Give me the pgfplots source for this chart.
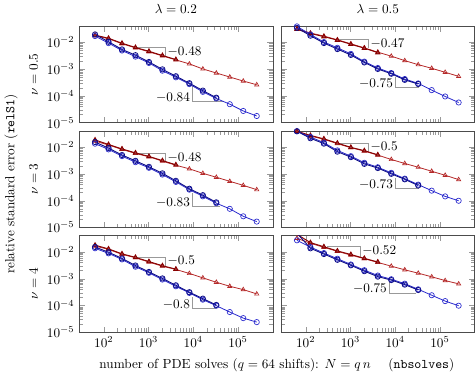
\documentclass[border=0pt]{standalone}
\usepackage{pgfplots}
\pgfplotsset{compat=1.18}
\usepackage{pgfplotstable}
\usepgfplotslibrary{groupplots}
\usetikzlibrary{calc}

\definecolor{redA}{RGB}{180,40,40}
\definecolor{redB}{RGB}{135,0,0}
\definecolor{blueA}{RGB}{40,40,205}
\definecolor{blueB}{RGB}{15,15,135}

% columns: N, red run (full), red run (short), blue run (full), blue run (short)
\pgfplotstableread{
N rA rB bA bB
64 0.0175 0.0186 0.0171 0.0197
128 0.0136 0.01414 0.00933 0.01045
256 0.00879 0.00923 0.00492 0.00541
512 0.00621 0.00640 0.00292 0.00330
1024 0.00440 0.00462 0.00169 0.00184
2048 0.00310 0.00322 0.000871 0.000976
4096 0.00220 0.00227 0.000492 0.000541
8192 0.00156 nan 0.000275 0.000297
16384 0.00101 nan 0.000141 0.000157
32768 0.000713 nan 7.98e-5 8.54e-5
65536 0.000505 nan 4.88e-5 nan
131072 0.000357 nan 2.73e-5 nan
262144 0.000260 nan 1.77e-5 nan
}\tabTL
\pgfplotstableread{
N rA rB bA bB
64 0.0322 0.0306 0.0393 0.0346
128 0.0222 0.0213 0.0196 0.01764
256 0.0171 0.01625 0.0102 0.00938
512 0.0124 0.01203 0.00621 0.00559
1024 0.00879 0.00844 0.00370 0.00337
2048 0.00621 0.00602 0.00190 0.00177
4096 0.00428 0.00411 0.00110 0.00101
8192 0.00303 nan 0.000713 0.00067
16384 0.00207 nan 0.000425 0.000395
32768 0.00146 nan 0.000292 0.000277
65536 0.00107 nan 0.000164 nan
131072 0.000758 nan 9.48e-5 nan
262144 0.000536 nan 5.65e-5 nan
}\tabTR
\pgfplotstableread{
N rA rB bA bB
64 0.0168 0.0185 0.0134 0.0154
128 0.0119 0.0125 0.00820 0.00918
256 0.00820 0.00853 0.00459 0.00505
512 0.00579 0.00608 0.00273 0.00306
1024 0.00435 0.00448 0.00168 0.00183
2048 0.00298 0.00313 0.000942 0.001046
4096 0.00210 0.00218 0.000500 0.00055
8192 0.00154 nan 0.000257 0.000278
16384 0.00105 nan 0.000145 0.000160
32768 0.000745 nan 8.0e-5 8.64e-5
65536 0.000527 nan 4.95e-5 nan
131072 0.000372 nan 2.6e-5 nan
262144 0.000257 nan 1.65e-5 nan
}\tabML
\pgfplotstableread{
N rA rB bA bB
64 0.039 0.039 0.039 0.039
128 0.0259 0.0272 0.0238 0.0214
256 0.0195 0.0203 0.0146 0.01343
512 0.0134 0.0141 0.0075 0.00675
1024 0.00949 0.00977 0.00459 0.00422
2048 0.00708 0.00736 0.00259 0.00236
4096 0.00500 0.00515 0.00177 0.00165
8192 0.00345 nan 0.00109 0.001003
16384 0.00244 nan 0.000665 0.000625
32768 0.00177 nan 0.000396 0.000368
65536 0.00125 nan 0.000236 nan
131072 0.000885 nan 0.000144 nan
262144 0.000611 nan 9.9e-5 nan
}\tabMR
\pgfplotstableread{
N rA rB bA bB
64 0.0165 0.0178 0.0136 0.01523
128 0.0124 0.0129 0.00879 0.00967
256 0.00805 0.00845 0.00522 0.00569
512 0.00605 0.00623 0.00278 0.00309
1024 0.00414 0.00435 0.00165 0.00178
2048 0.00292 0.00304 0.000925 0.001018
4096 0.00220 0.00227 0.000518 0.000565
8192 0.00156 nan 0.000292 0.000312
16384 0.00107 nan 0.000164 0.000179
32768 0.000733 nan 9.75e-5 0.000104
65536 0.000518 nan 5.65e-5 nan
131072 0.000389 nan 3.36e-5 nan
262144 0.000269 nan 2.38e-5 nan
}\tabBL
\pgfplotstableread{
N rA rB bA bB
64 0.0322 0.045 0.0270 0.050
128 0.0209 0.0222 0.0151 0.0136
256 0.0148 0.01554 0.00901 0.00829
512 0.01044 0.01086 0.00555 0.00505
1024 0.00759 0.00797 0.00339 0.00315
2048 0.00555 0.00572 0.00207 0.00190
4096 0.00403 0.00419 0.00131 0.00119
8192 0.00292 nan 0.00095 0.000884
16384 0.00214 nan 0.00065 0.000598
32768 0.00160 nan 0.00040 0.000376
65536 0.00117 nan 0.00024 nan
131072 0.000849 nan 0.000145 nan
262144 0.000638 nan 9.75e-5 nan
}\tabBR

\pgfplotsset{
  panel/.style={
    xmode=log, ymode=log,
    xmin=28, xmax=6e5, ymin=1e-5, ymax=0.04,
    scale only axis, width=146.7pt, height=73pt,
    xtick={1e2,1e3,1e4,1e5}, ytick={1e-5,1e-4,1e-3,1e-2},
    axis line style={black!70},
    tick style={black!40},
  },
  redA/.style={color=redA, line width=0.6pt, mark=triangle, mark size=1.8pt,
    mark options={solid, line width=0.5pt}},
  redB/.style={color=redB, line width=0.7pt, mark=triangle*, mark size=1.8pt,
    mark options={solid, fill=redB!75}},
  blueA/.style={color=blueA, line width=0.6pt, mark=o, mark size=2pt,
    mark options={solid, line width=0.5pt}},
  blueB/.style={color=blueB, line width=0.7pt, mark=o, mark size=2pt,
    mark options={solid, line width=0.6pt}},
}

% slope triangles: x1, x2, ytop, ybot, label
\newcommand{\redslope}[5]{%
  \draw[black!40, line width=0.6pt] (axis cs:#1,#3) -- (axis cs:#2,#3) -- (axis cs:#2,#4);
  \node[anchor=west, inner sep=1.5pt, yshift=-3pt] at (axis cs:#2,#3) {$#5$};}
\newcommand{\blueslope}[5]{%
  \draw[black!40, line width=0.6pt] (axis cs:#1,#3) -- (axis cs:#1,#4) -- (axis cs:#2,#4);
  \node[anchor=east, inner sep=1.5pt, yshift=3pt] at (axis cs:#1,#4) {$#5$};}

\newcommand{\panelplots}[1]{%
  \addplot[redA] table[x=N, y=rA] {#1};
  \addplot[redB] table[x=N, y=rB] {#1};
  \addplot[blueA] table[x=N, y=bA] {#1};
  \addplot[blueB] table[x=N, y=bB] {#1};}

\begin{document}
\begin{tikzpicture}
\begin{groupplot}[
  group style={group size=2 by 3, horizontal sep=6.1pt, vertical sep=6.3pt},
  panel,
]
\nextgroupplot[title={$\lambda = 0.2$}, ylabel={$\nu = 0.5$}, xticklabels={}]
  \redslope{533}{2395}{0.00632}{0.00307}{-0.48}
  \blueslope{9480}{48000}{2.42e-4}{6.2e-5}{-0.84}
  \panelplots{\tabTL}
\nextgroupplot[title={$\lambda = 0.5$}, xticklabels={}, yticklabels={}]
  \redslope{522}{2520}{0.0124}{0.00592}{-0.47}
  \blueslope{1e4}{34600}{5.25e-4}{2.07e-4}{-0.75}
  \panelplots{\tabTR}
\nextgroupplot[ylabel={$\nu = 3$}, xticklabels={}]
  \redslope{533}{2395}{0.00565}{0.00275}{-0.48}
  \blueslope{9480}{39700}{1.99e-4}{6.05e-5}{-0.83}
  \panelplots{\tabML}
\nextgroupplot[xticklabels={}, yticklabels={}]
  \redslope{522}{2520}{0.0142}{0.00646}{-0.5}
  \blueslope{1e4}{34600}{6.93e-4}{2.8e-4}{-0.73}
  \panelplots{\tabMR}
\nextgroupplot[ylabel={$\nu = 4$}]
  \redslope{533}{2395}{0.00638}{0.00301}{-0.5}
  \blueslope{9480}{32300}{2.0e-4}{7.52e-5}{-0.8}
  \panelplots{\tabBL}
\nextgroupplot[yticklabels={}]
  \redslope{300}{1650}{0.0160}{0.0066}{-0.52}
  \blueslope{7310}{29100}{8.23e-4}{2.92e-4}{-0.75}
  \panelplots{\tabBR}
\end{groupplot}
\node[rotate=90, anchor=south] at ($(group c1r2.outer west)+(-2pt,0)$)
  {relative standard error (\texttt{relS1})};
\node[anchor=base] at ($($(group c1r3.south east)!0.5!(group c2r3.south west)$)+(0,-27.5pt)$)
  {number of PDE solves ($q=64$ shifts): $N = q\,n$ \quad(\texttt{nbsolves})};
\end{tikzpicture}
\end{document}
